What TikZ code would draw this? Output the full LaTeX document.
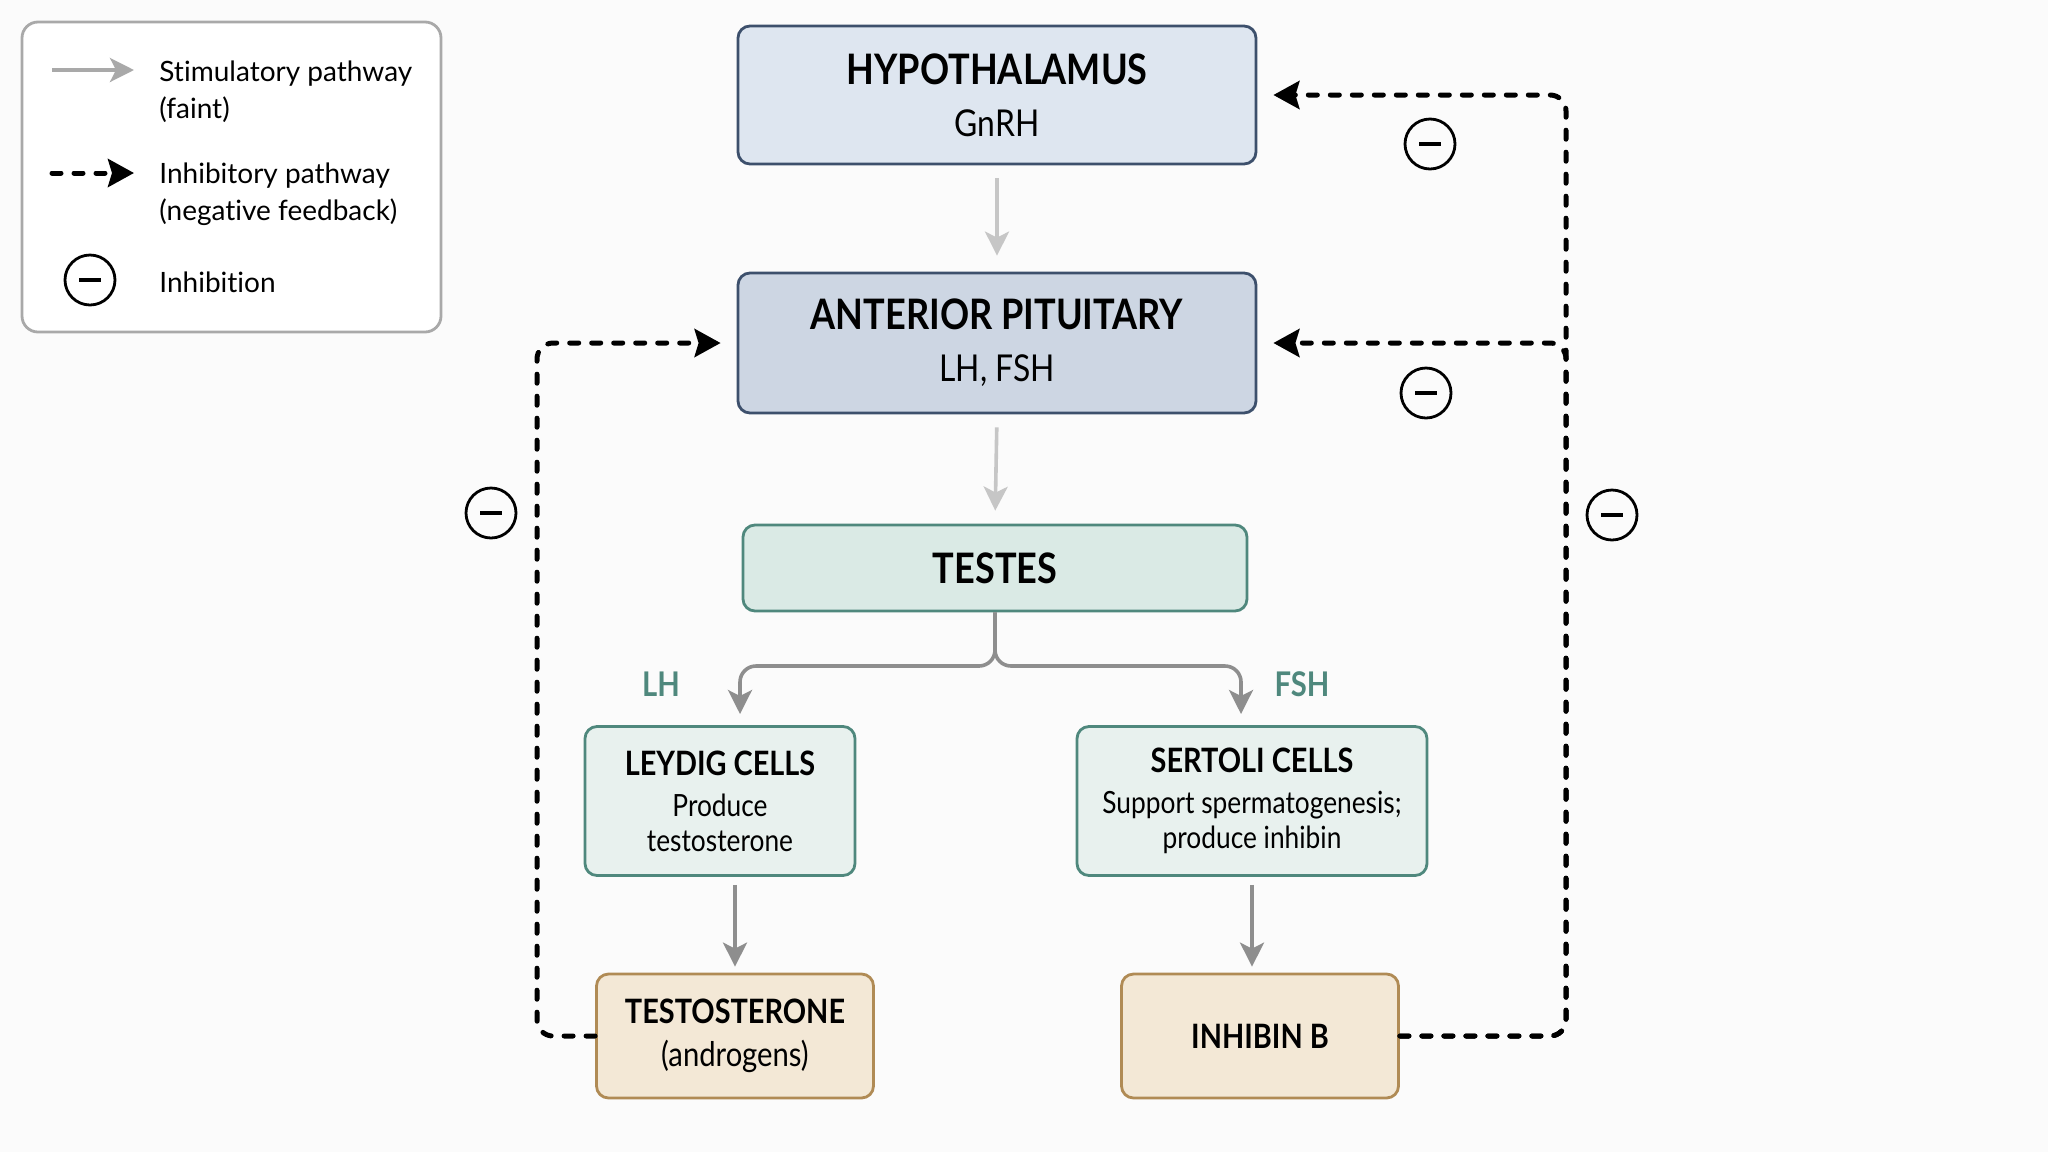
\documentclass[tikz,border=0pt]{standalone}
\usepackage{fontspec}
\setmainfont{Lato}[Ligatures=NoCommon]
\newfontfamily\condfont{Lato}[FakeStretch=0.86, Ligatures=NoCommon]
\usetikzlibrary{arrows.meta, positioning}

\definecolor{bgcol}{HTML}{FBFBFB}
\definecolor{navy}{HTML}{3D506C}
\definecolor{hypofill}{HTML}{DEE6F0}
\definecolor{pitfill}{HTML}{CDD6E3}
\definecolor{tealline}{HTML}{4F887D}
\definecolor{testfill}{HTML}{DAEAE5}
\definecolor{cellfill}{HTML}{E8F1EE}
\definecolor{hormfill}{HTML}{F3E8D6}
\definecolor{hormline}{HTML}{B08B55}
\definecolor{faintgray}{HTML}{C6C6C6}
\definecolor{midgray}{HTML}{8E8E8E}
\definecolor{legline}{HTML}{A9A9A9}

\newcommand{\bigtitle}[1]{{\bfseries\fontsize{21}{25}\selectfont #1}}
\newcommand{\smalltitle}[1]{{\bfseries\fontsize{16.8}{20}\selectfont #1}}

\begin{document}
\begin{tikzpicture}[x=0.5pt, y=-0.5pt,
    box/.style={rounded corners=6pt, line width=1.4pt, align=center, inner sep=0pt},
    organ/.style={box, draw=navy, minimum width=259pt, minimum height=69pt,
        font=\condfont\fontsize{18.5}{26}\selectfont},
    gland/.style={box, draw=tealline, fill=testfill, minimum width=252pt, minimum height=43pt,
        font=\condfont},
    cell/.style={box, draw=tealline, fill=cellfill, minimum height=74.5pt,
        font=\condfont\fontsize{15.3}{17.5}\selectfont},
    hormone/.style={box, draw=hormline, fill=hormfill, minimum width=138.5pt, minimum height=62pt,
        font=\condfont\fontsize{17}{21.5}\selectfont},
    stim/.style={line width=1.8pt, -{Stealth[length=12pt,width=12pt,inset=3pt]}},
    branch/.style={stim, draw=midgray, rounded corners=8pt},
    inhib/.style={line width=2.5pt, dash pattern=on 4.5pt off 6.5pt, line cap=round,
        rounded corners=8pt, -{Stealth[length=13pt,width=14pt,inset=2pt]}},
    minus/.style={circle, draw, line width=1.4pt, minimum size=25pt, inner sep=0pt},
    legtext/.style={anchor=west, align=left, inner sep=0pt, font=\fontsize{14}{18.5}\selectfont},
    hlabel/.style={text=tealline, font=\condfont\bfseries\fontsize{17}{18}\selectfont}
]
    % page and background
    \fill[bgcol] (0,0) rectangle (2048,1152);
    \useasboundingbox (0,0) rectangle (2048,1152);

    % legend
    \draw[line width=1.4pt, draw=legline, fill=white, rounded corners=8pt] (22,22) rectangle (441,332);
    \coordinate (ls1) at (52,70);
    \coordinate (ls2) at (134,70);
    \coordinate (li1) at (52,173);
    \coordinate (li2) at (134,173);
    \draw[stim, draw=legline] (ls1) -- (ls2);
    \draw[inhib, rounded corners=0pt] (li1) -- (li2);
    \node[minus] (lmin) at (90,280) {\rule{11pt}{2.4pt}};
    \node[legtext] (lstim) at (159,92) {Stimulatory pathway\\(faint)};
    \node[legtext] (linh) at (159,194) {Inhibitory pathway\\(negative feedback)};
    \node[legtext] (lmintxt) at (159,282) {Inhibition};

    % axis nodes
    \node[organ, fill=hypofill] (hypo) at (997,95) {\bigtitle{HYPOTHALAMUS}\\GnRH};
    \node[organ, fill=pitfill, minimum height=70pt] (pit) at (997,343) {\bigtitle{ANTERIOR PITUITARY}\\LH, FSH};
    \node[gland] (testes) at (995,568) {\bigtitle{TESTES}};
    \node[cell, minimum width=135pt] (leydig) at (720,801) {\smalltitle{LEYDIG CELLS}\\[3pt]Produce\\testosterone};
    \node[cell, minimum width=175pt] (sertoli) at (1252,801) {\smalltitle{SERTOLI CELLS}\\[3pt]Support spermatogenesis;\\produce inhibin};
    \node[hormone] (testo) at (735,1036) {\smalltitle{TESTOSTERONE}\\(androgens)};
    \node[hormone] (inhb) at (1260,1036) {\smalltitle{INHIBIN B}};

    \node[hlabel] (lhlab) at (661,684) {LH};
    \node[hlabel] (fshlab) at (1302,684) {FSH};

    % stimulatory arrows
    \draw[stim, draw=faintgray, shorten <=6.5pt, shorten >=8pt] (hypo.south) -- (pit.north);
    \draw[stim, draw=faintgray, shorten <=6.5pt, shorten >=6.5pt] (pit.south) -- (testes.north);
    \coordinate (lhtip) at (740,714);
    \coordinate (fshtip) at (1241,714);
    \coordinate (lhbend) at (900,666);
    \coordinate (fshbend) at (1100,666);
    \draw[branch] (testes.south) |- (lhbend) -| (lhtip);
    \draw[branch] (testes.south) |- (fshbend) -| (fshtip);
    \draw[stim, draw=midgray, shorten <=4pt, shorten >=3pt] (leydig.south -| testo.north) -- (testo.north);
    \draw[stim, draw=midgray, shorten <=4pt, shorten >=3pt] (sertoli.south) -- (sertoli.south |- inhb.north);

    % negative feedback
    \draw[inhib, shorten >=8pt] (testo.west) -- (537,1036) |- (pit.west);
    \draw[inhib, shorten >=8pt] (inhb.east) -- (1566,1036) |- (pit.east);
    \draw[inhib, shorten >=8pt] (inhb.east) -- (1566,1036) |- (hypo.east);

    \node[minus] (m1) at (1430,144) {\rule{11pt}{2.4pt}};
    \node[minus] (m2) at (1426,393) {\rule{11pt}{2.4pt}};
    \node[minus] (m3) at (491,513) {\rule{11pt}{2.4pt}};
    \node[minus] (m4) at (1612,515) {\rule{11pt}{2.4pt}};
\end{tikzpicture}
\end{document}
